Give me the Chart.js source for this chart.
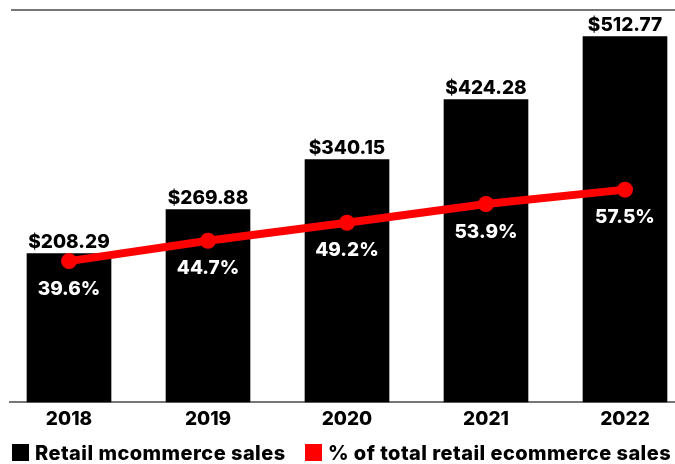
<!DOCTYPE html>
<html>
<head>
<meta charset="utf-8">
<script src="https://cdn.jsdelivr.net/npm/chart.js@4.4.1/dist/chart.umd.min.js"></script>
<style>
  html, body { margin: 0; padding: 0; background: #fff; }
  #wrap { position: relative; width: 675px; height: 464px; }
  #chart { position: absolute; left: 0; top: 0; }
  .legend-item { position: absolute; top: 444px; height: 17px; display: flex; align-items: center;
    font-family: Inter, "Liberation Sans", sans-serif; font-weight: 800; font-size: 20px; letter-spacing: 0.45px;
    color: #000; white-space: nowrap; }
  .swatch { width: 17px; height: 17px; margin-right: 6px; flex: none; }
</style>
</head>
<body>
<div id="wrap">
  <canvas id="chart" width="675" height="464"></canvas>
  <div class="legend-item" style="left:12px"><span class="swatch" style="background:#000"></span><span id="lg0"></span></div>
  <div class="legend-item" style="left:305px"><span class="swatch" style="background:#ff0000"></span><span id="lg1"></span></div>
</div>
<script>
// Categories and series
const years = ['2018', '2019', '2020', '2021', '2022'];
const mcommerceSales = [208.29, 269.88, 340.15, 424.28, 512.77];   // billions of dollars
const shareOfEcommerce = [39.6, 44.7, 49.2, 53.9, 57.5];           // percent
const seriesNames = ['Retail mcommerce sales', '% of total retail ecommerce sales'];

document.getElementById('lg0').textContent = seriesNames[0];
document.getElementById('lg1').textContent = seriesNames[1];

const FONT = 'Inter, "Liberation Sans", sans-serif';

// Horizontal rules at the top and bottom of the plot area
const frameLines = {
  id: 'frameLines',
  beforeDatasetsDraw(chart) {
    const { ctx, chartArea } = chart;
    ctx.save();
    ctx.strokeStyle = '#4a4a4a';
    ctx.lineWidth = 1.5;
    ctx.beginPath();
    ctx.moveTo(11, chartArea.top);
    ctx.lineTo(675, chartArea.top);
    ctx.moveTo(9, chartArea.bottom);
    ctx.lineTo(675, chartArea.bottom);
    ctx.stroke();
    ctx.restore();
  }
};

// Value labels: dollars above bars, percentages under the line points
const valueLabels = {
  id: 'valueLabels',
  afterDatasetsDraw(chart) {
    const { ctx } = chart;
    ctx.save();
    ctx.font = '800 19px ' + FONT;
    ctx.textAlign = 'center';
    ctx.textBaseline = 'middle';
    chart.getDatasetMeta(1).data.forEach((bar, i) => {
      ctx.fillStyle = '#000';
      ctx.fillText('$' + mcommerceSales[i].toFixed(2), bar.x, bar.y - 11);
    });
    chart.getDatasetMeta(0).data.forEach((pt, i) => {
      ctx.fillStyle = '#fff';
      ctx.fillText(shareOfEcommerce[i].toFixed(1) + '%', pt.x, pt.y + 28);
    });
    ctx.restore();
  }
};

new Chart(document.getElementById('chart'), {
  data: {
    labels: years,
    datasets: [
      {
        type: 'line',
        label: seriesNames[1],
        data: shareOfEcommerce,
        yAxisID: 'yPct',
        borderColor: '#ff0000',
        backgroundColor: '#ff0000',
        borderWidth: 8,
        pointRadius: 8,
        pointHoverRadius: 8,
        pointBorderWidth: 0,
        clip: false,
        order: 0
      },
      {
        type: 'bar',
        label: seriesNames[0],
        data: mcommerceSales,
        yAxisID: 'ySales',
        backgroundColor: '#000',
        barThickness: 84,
        clip: false,
        order: 1
      }
    ]
  },
  options: {
    responsive: false,
    devicePixelRatio: 1,
    animation: false,
    layout: { padding: { left: 69, right: 50, top: 10, bottom: 32 } },
    plugins: { legend: { display: false }, tooltip: { enabled: false } },
    scales: {
      x: {
        type: 'category',
        offset: false,
        grid: { display: false, drawTicks: false },
        border: { display: false },
        ticks: { color: '#000', font: { family: FONT, weight: '800', size: 19 }, padding: 6, maxRotation: 0, autoSkip: false },
        afterFit(scale) { scale.height = 30; }
      },
      ySales: { display: false, min: 0, max: 550 },
      yPct: { display: false, min: 4.3, max: 102.5 }
    }
  },
  plugins: [frameLines, valueLabels]
});
</script>
</body>
</html>
